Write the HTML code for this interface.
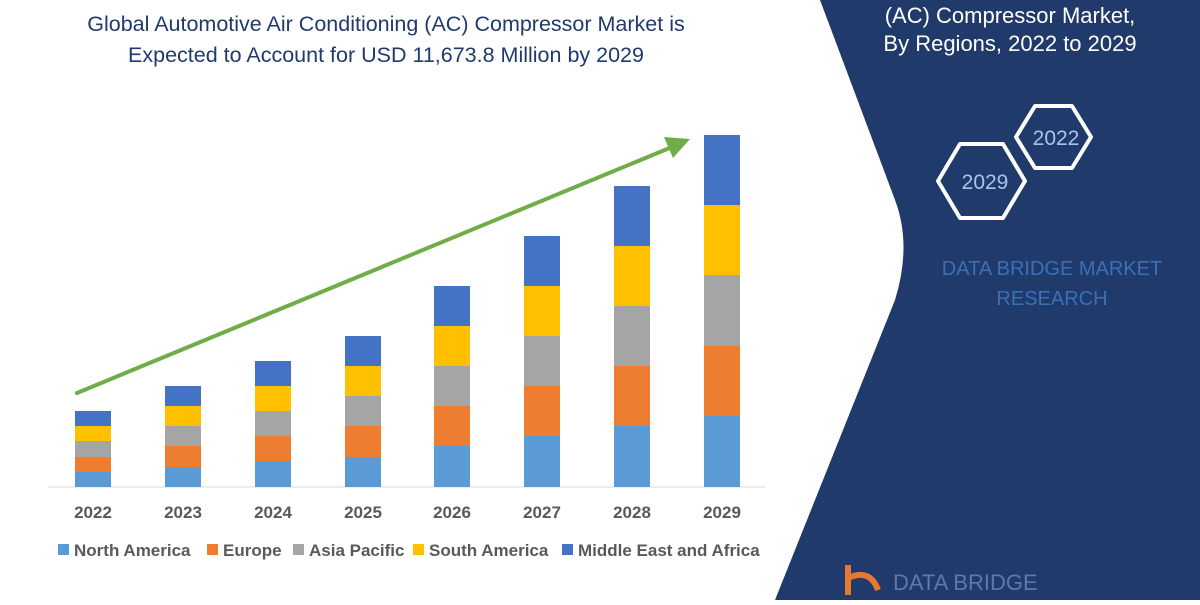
<!DOCTYPE html>
<html><head><meta charset="utf-8"><style>
body{margin:0;width:1200px;height:600px;overflow:hidden;background:#fff;font-family:"Liberation Sans",sans-serif}
</style></head><body>
<svg width="1200" height="600" xmlns="http://www.w3.org/2000/svg" font-family="Liberation Sans, sans-serif">
<rect width="1200" height="600" fill="#fff"/>
<path d="M820,0 L1200,0 L1200,600 L775,600 L895,300 Q912,245 895,200 Z" fill="#203a6b"/>
<g fill="#fff" font-size="22" text-anchor="middle">
<text x="1010" y="23">(AC) Compressor Market,</text>
<text x="1010" y="51">By Regions, 2022 to 2029</text>
</g>
<g fill="none" stroke="#fff" stroke-width="4" stroke-linejoin="round">
<polygon points="1016,137 1035,106 1072,106 1091,137 1072,168 1035,168"/>
<polygon points="938,181 960,144 1003,144 1025,181 1003,218 960,218"/>
</g>
<text x="1056" y="145" fill="#a9c4ec" font-size="21" text-anchor="middle">2022</text>
<text x="985" y="189" fill="#a9c4ec" font-size="21" text-anchor="middle">2029</text>
<g fill="#3b6fb6" font-size="20" text-anchor="middle">
<text x="1052" y="275">DATA BRIDGE MARKET</text>
<text x="1052" y="305">RESEARCH</text>
</g>
<text x="893" y="590" fill="#5d7aa6" font-size="22">DATA BRIDGE</text>
<path d="M848,565 L848,595 M848,578 Q870,568 878,590" stroke="#e8782f" stroke-width="6" fill="none"/>
<g fill="#203a6b" font-size="21.5" text-anchor="middle">
<text x="386" y="31">Global Automotive Air Conditioning (AC) Compressor Market is</text>
<text x="386" y="62">Expected to Account for USD 11,673.8 Million by 2029</text>
</g>
<line x1="48" y1="487" x2="765" y2="487" stroke="#d9d9d9" stroke-width="1"/>
<g id="bars">
<rect x="75" y="472" width="36" height="15" fill="#5b9bd5"/><rect x="75" y="457" width="36" height="15" fill="#ed7d31"/><rect x="75" y="441" width="36" height="16" fill="#a5a5a5"/><rect x="75" y="426" width="36" height="15" fill="#ffc000"/><rect x="75" y="411" width="36" height="15" fill="#4472c4"/>
<rect x="165" y="467" width="36" height="20" fill="#5b9bd5"/><rect x="165" y="446" width="36" height="21" fill="#ed7d31"/><rect x="165" y="426" width="36" height="20" fill="#a5a5a5"/><rect x="165" y="406" width="36" height="20" fill="#ffc000"/><rect x="165" y="386" width="36" height="20" fill="#4472c4"/>
<rect x="255" y="461" width="36" height="26" fill="#5b9bd5"/><rect x="255" y="436" width="36" height="25" fill="#ed7d31"/><rect x="255" y="411" width="36" height="25" fill="#a5a5a5"/><rect x="255" y="386" width="36" height="25" fill="#ffc000"/><rect x="255" y="361" width="36" height="25" fill="#4472c4"/>
<rect x="345" y="457" width="36" height="30" fill="#5b9bd5"/><rect x="345" y="426" width="36" height="31" fill="#ed7d31"/><rect x="345" y="396" width="36" height="30" fill="#a5a5a5"/><rect x="345" y="366" width="36" height="30" fill="#ffc000"/><rect x="345" y="336" width="36" height="30" fill="#4472c4"/>
<rect x="434" y="446" width="36" height="41" fill="#5b9bd5"/><rect x="434" y="406" width="36" height="40" fill="#ed7d31"/><rect x="434" y="366" width="36" height="40" fill="#a5a5a5"/><rect x="434" y="326" width="36" height="40" fill="#ffc000"/><rect x="434" y="286" width="36" height="40" fill="#4472c4"/>
<rect x="524" y="436" width="36" height="51" fill="#5b9bd5"/><rect x="524" y="386" width="36" height="50" fill="#ed7d31"/><rect x="524" y="336" width="36" height="50" fill="#a5a5a5"/><rect x="524" y="286" width="36" height="50" fill="#ffc000"/><rect x="524" y="236" width="36" height="50" fill="#4472c4"/>
<rect x="614" y="426" width="36" height="61" fill="#5b9bd5"/><rect x="614" y="366" width="36" height="60" fill="#ed7d31"/><rect x="614" y="306" width="36" height="60" fill="#a5a5a5"/><rect x="614" y="246" width="36" height="60" fill="#ffc000"/><rect x="614" y="186" width="36" height="60" fill="#4472c4"/>
<rect x="704" y="416" width="36" height="71" fill="#5b9bd5"/><rect x="704" y="346" width="36" height="70" fill="#ed7d31"/><rect x="704" y="275" width="36" height="71" fill="#a5a5a5"/><rect x="704" y="205" width="36" height="70" fill="#ffc000"/><rect x="704" y="135" width="36" height="70" fill="#4472c4"/>
</g>
<line x1="77" y1="393" x2="672" y2="147" stroke="#70ad47" stroke-width="4" stroke-linecap="round"/>
<polygon points="690,139 664,137 673,158" fill="#70ad47"/>
<g fill="#595959" font-size="17" font-weight="bold" text-anchor="middle">
<text x="93" y="518">2022</text><text x="183" y="518">2023</text><text x="273" y="518">2024</text><text x="363" y="518">2025</text><text x="452" y="518">2026</text><text x="542" y="518">2027</text><text x="632" y="518">2028</text><text x="722" y="518">2029</text>
</g>
<g font-size="17" font-weight="bold" fill="#595959">
<rect x="58" y="544" width="11" height="11" fill="#5b9bd5"/><text x="74" y="556">North America</text>
<rect x="207" y="544" width="11" height="11" fill="#ed7d31"/><text x="223" y="556">Europe</text>
<rect x="293" y="544" width="11" height="11" fill="#a5a5a5"/><text x="309" y="556">Asia Pacific</text>
<rect x="413" y="544" width="11" height="11" fill="#ffc000"/><text x="429" y="556">South America</text>
<rect x="562" y="544" width="11" height="11" fill="#4472c4"/><text x="578" y="556">Middle East and Africa</text>
</g>
</svg>
</body></html>
